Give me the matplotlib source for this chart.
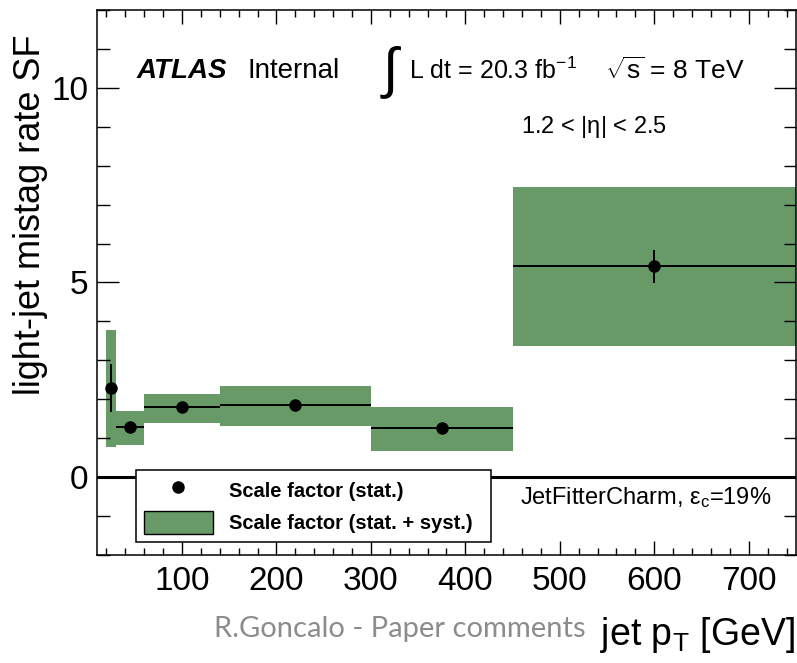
import matplotlib
matplotlib.use("Agg")
import matplotlib.pyplot as plt
from matplotlib.lines import Line2D
from matplotlib.patches import Patch
from matplotlib.ticker import MultipleLocator
import numpy as np

# pT bins and scale factors
bin_lo = np.array([20, 30, 60, 140, 300, 450])
bin_hi = np.array([30, 60, 140, 300, 450, 750])
pt = np.array([25, 45, 100, 220, 375, 600])
sf = np.array([2.29, 1.29, 1.79, 1.84, 1.25, 5.41])
stat_err = np.array([0.62, 0.06, 0.06, 0.06, 0.06, 0.42])
tot_lo = np.array([0.78, 0.83, 1.40, 1.32, 0.67, 3.36])
tot_hi = np.array([3.77, 1.71, 2.14, 2.33, 1.79, 7.46])

green = "#679a66"
plt.rcParams["font.family"] = ["Liberation Sans", "DejaVu Sans"]
plt.rcParams["mathtext.fontset"] = "custom"
plt.rcParams["mathtext.rm"] = "Liberation Sans"
plt.rcParams["mathtext.it"] = "Liberation Sans:italic"
plt.rcParams["mathtext.default"] = "regular"

fig = plt.figure(figsize=(7.97, 6.63), dpi=100)
ax = fig.add_axes([0.1217, 0.163, 0.877, 0.822])

# stat+syst band
ax.bar(bin_lo, tot_hi - tot_lo, bottom=tot_lo, width=bin_hi - bin_lo,
       align="edge", color=green, edgecolor="none", zorder=1)
# zero line
ax.axhline(0, color="black", lw=2.2, zorder=2)
# points with stat error and bin width
ax.errorbar(pt, sf, yerr=stat_err, xerr=[pt - bin_lo, bin_hi - pt],
            fmt="o", color="black", ms=8, lw=1.4, capsize=0, zorder=3)

ax.set_xlim(10, 750)
ax.set_ylim(-2, 12)
ax.xaxis.set_major_locator(MultipleLocator(100))
ax.xaxis.set_minor_locator(MultipleLocator(20))
ax.yaxis.set_major_locator(MultipleLocator(5))
ax.yaxis.set_minor_locator(MultipleLocator(1))
ax.tick_params(which="both", direction="in", top=True, right=True,
               labelsize=24, width=1.0)
ax.tick_params(axis="x", which="major", length=10, pad=8)
ax.tick_params(axis="x", which="minor", length=5)
ax.tick_params(axis="y", which="major", length=16, pad=6)
ax.tick_params(axis="y", which="minor", length=9)
for s in ax.spines.values():
    s.set_linewidth(1.1)

fig.text(0.038, 0.948, "light-jet mistag rate SF", rotation=90,
         ha="center", va="top", fontsize=26)
fig.text(0.997, 0.042, r"jet p$_{T}$ [GeV]", ha="right", va="center",
         fontsize=27)
fig.text(0.268, 0.052, "R.Goncalo - Paper comments", ha="left",
         va="center", fontsize=21, color="#8c8c8c", family="Lato")

# labels inside the plot
ax.text(0.057, 0.888, "ATLAS", transform=ax.transAxes, fontsize=20,
        fontweight="bold", style="italic", va="center")
ax.text(0.216, 0.888, "Internal", transform=ax.transAxes, fontsize=20,
        va="center")
ax.text(0.405, 0.885, r"$\int$", transform=ax.transAxes, fontsize=40,
        va="center")
ax.text(0.447, 0.888, r"L dt = 20.3 fb$^{-1}$", transform=ax.transAxes,
        fontsize=18, va="center")
ax.text(0.727, 0.888, r"$\sqrt{s}$ = 8 TeV", transform=ax.transAxes,
        fontsize=19, va="center")
ax.text(0.607, 0.785, r"1.2 < |$\eta$| < 2.5", transform=ax.transAxes,
        fontsize=17, va="center")
ax.text(0.605, 0.105, r"JetFitterCharm, $\epsilon_{c}$=19%",
        transform=ax.transAxes, fontsize=17, va="center")

handles = [Line2D([], [], marker="o", color="black", ls="none", ms=8),
           Patch(facecolor=green, edgecolor="black", lw=1.0)]
leg = ax.legend(handles, ["Scale factor (stat.)",
                          "Scale factor (stat. + syst.)"],
                loc="lower left", bbox_to_anchor=(0.056, 0.024, 0.507, 0.134),
                mode="expand", fancybox=False, edgecolor="black",
                framealpha=1, handlelength=3.4, handleheight=1.4,
                borderpad=0.4, labelspacing=0.45, handletextpad=0.8,
                borderaxespad=0, prop={"size": 14.5, "weight": "bold"})
leg.get_frame().set_linewidth(1.1)
leg.set_zorder(5)

fig.savefig("out.png", dpi=100)
